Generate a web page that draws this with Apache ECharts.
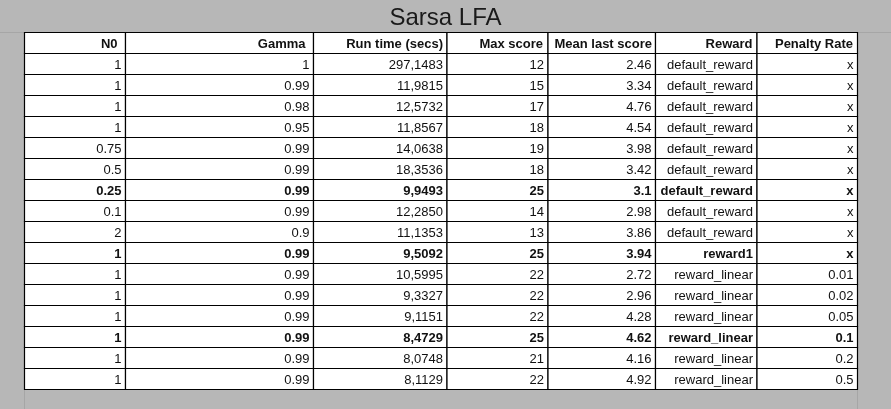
<!DOCTYPE html>
<html>
<head>
<meta charset="utf-8">
<script src="https://cdn.jsdelivr.net/npm/echarts@6/dist/echarts.min.js"></script>
<style>
html, body { margin: 0; padding: 0; background: #b7b7b7; }
#main { width: 891px; height: 409px; }
</style>
</head>
<body>
<div id="main"></div>
<script>
var headers = ['N0', 'Gamma', 'Run time (secs)', 'Max score', 'Mean last score', 'Reward', 'Penalty Rate'];
var n0 = ['1', '1', '1', '1', '0.75', '0.5', '0.25', '0.1', '2', '1', '1', '1', '1', '1', '1', '1'];
var gamma = ['1', '0.99', '0.98', '0.95', '0.99', '0.99', '0.99', '0.99', '0.9', '0.99', '0.99', '0.99', '0.99', '0.99', '0.99', '0.99'];
var runTime = ['297,1483', '11,9815', '12,5732', '11,8567', '14,0638', '18,3536', '9,9493', '12,2850',
               '11,1353', '9,5092', '10,5995', '9,3327', '9,1151', '8,4729', '8,0748', '8,1129'];
var maxScore = [12, 15, 17, 18, 19, 18, 25, 14, 13, 25, 22, 22, 22, 25, 21, 22];
var meanLast = ['2.46', '3.34', '4.76', '4.54', '3.98', '3.42', '3.1', '2.98', '3.86', '3.94', '2.72', '2.96', '4.28', '4.62', '4.16', '4.92'];
var reward = ['default_reward', 'default_reward', 'default_reward', 'default_reward', 'default_reward', 'default_reward',
              'default_reward', 'default_reward', 'default_reward', 'reward1', 'reward_linear', 'reward_linear',
              'reward_linear', 'reward_linear', 'reward_linear', 'reward_linear'];
var penalty = ['x', 'x', 'x', 'x', 'x', 'x', 'x', 'x', 'x', 'x', '0.01', '0.02', '0.05', '0.1', '0.2', '0.5'];
var boldRows = [6, 9, 13]; // best runs, printed in bold

// table layout (px)
var colWidths = [101, 188, 133.5, 101, 107.5, 101.5, 100.5];
var headPad = [8, 8, 4, 5, 3.5, 4.5, 4.5];
var rowH = 21;

var colEdges = [0];
for (var i = 0; i < colWidths.length; i++) colEdges.push(colEdges[i] + colWidths[i]);

var columns = [n0, gamma, runTime, maxScore, meanLast, reward, penalty];
var rowNames = ['header'];
for (var r = 0; r < n0.length; r++) rowNames.push('row' + r);

var cells = [];
for (var r = 0; r <= n0.length; r++) {
    for (var c = 0; c < columns.length; c++) {
        cells.push({
            value: [c, r],
            txt: r == 0 ? headers[c] : String(columns[c][r - 1]),
            bold: r == 0 || boldRows.indexOf(r - 1) >= 0
        });
    }
}

function renderCell(params, api) {
    var c = api.value(0), r = api.value(1);
    var cell = cells[params.dataIndex];
    var left = api.coord([colEdges[c], r])[0];
    var right = api.coord([colEdges[c + 1], r])[0];
    var mid = api.coord([0, r])[1];
    var h = api.size([0, 1])[1];
    var pad = r == 0 ? headPad[c] : 4;
    return {
        type: 'group',
        children: [{
            type: 'rect',
            shape: { x: left, y: mid - h / 2, width: right - left, height: h },
            style: { fill: '#fff', stroke: '#000', lineWidth: 1.2 }
        }, {
            type: 'text',
            style: {
                x: right - pad, y: mid + 1,
                text: cell.txt,
                align: 'right', verticalAlign: 'middle',
                fontFamily: '"Liberation Sans", Arial, sans-serif',
                fontSize: 13,
                fontWeight: cell.bold ? 'bold' : 'normal',
                fill: '#111'
            }
        }]
    };
}

var myChart = echarts.init(document.getElementById('main'));
var option = {
    backgroundColor: '#b7b7b7',
    animation: false,
    title: {
        text: 'Sarsa LFA',
        left: 'center',
        top: 1,
        textStyle: { fontFamily: '"Liberation Sans", Arial, sans-serif', fontSize: 24, fontWeight: 'normal', color: '#1a1a1a' }
    },
    graphic: [
        { type: 'line', z: -1, shape: { x1: 0, y1: 32.5, x2: 891, y2: 32.5 }, style: { stroke: '#a6a6a6', lineWidth: 1 } },
        { type: 'line', z: -1, shape: { x1: 24.5, y1: 389, x2: 24.5, y2: 409 }, style: { stroke: '#a6a6a6', lineWidth: 1 } },
        { type: 'line', z: -1, shape: { x1: 857.5, y1: 389, x2: 857.5, y2: 409 }, style: { stroke: '#a6a6a6', lineWidth: 1 } }
    ],
    grid: { left: 24.5, top: 32.5, width: colEdges[colEdges.length - 1], height: rowH * rowNames.length },
    xAxis: { type: 'value', min: 0, max: colEdges[colEdges.length - 1], show: false },
    yAxis: { type: 'category', data: rowNames, inverse: true, show: false },
    series: [{
        type: 'custom',
        renderItem: renderCell,
        data: cells.map(function (d) { return d.value; }),
        silent: true
    }]
};
myChart.setOption(option);
</script>
</body>
</html>
